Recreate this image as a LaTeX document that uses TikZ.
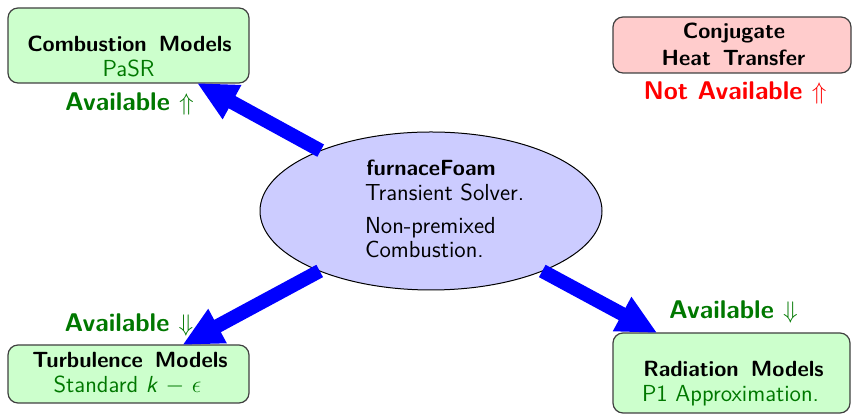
\documentclass[tikz,border=0pt]{standalone}
\usetikzlibrary{arrows.meta,shapes.geometric}

\definecolor{boxgreen}{RGB}{204,255,204}
\definecolor{boxred}{RGB}{255,204,204}
\definecolor{ellblue}{RGB}{204,204,255}
\definecolor{okgreen}{RGB}{0,120,0}
\definecolor{flowblue}{RGB}{0,0,255}

\newcommand{\wsp}{\hspace{0.55em}}

\begin{document}
\begin{tikzpicture}[x=0.5pt,y=-0.5pt,
  every node/.style={inner sep=0pt,outer sep=0pt,
    font=\fontsize{11.6}{13.6}\selectfont\sffamily},
  framebox/.style={draw=black!75,line width=0.6pt,rounded corners=5pt},
  modelbox/.style={framebox,fill=boxgreen},
  missingbox/.style={framebox,fill=boxred},
  solver/.style={ellipse,draw=black,line width=0.5pt,fill=ellblue},
  title/.style={anchor=base,font=\fontsize{11}{13}\selectfont\sffamily\bfseries},
  detail/.style={anchor=base,text=okgreen},
  status/.style={anchor=base,font=\fontsize{12.8}{15}\selectfont\sffamily\bfseries},
  flow/.style={line width=7pt,draw=flowblue,
    -{Triangle[length=20pt,width=18pt]}}
]
\useasboundingbox (0,0) rectangle (852,415);

% central solver
\node[solver,minimum width=171pt,minimum height=79pt] (solver) at (431,211) {};
\node[title] (solvername) at (431,176) {furnaceFoam};
\node[anchor=base west] (solvtype) at (365,201) {Transient Solver.};
\node[anchor=base west] (solvcomb1) at (365,234) {Non-premixed};
\node[anchor=base west] (solvcomb2) at (365,258) {Combustion.};

% model boxes
\node[modelbox,minimum width=120.5pt,minimum height=37.5pt] (comb) at (128.5,45.5) {};
\node[title] (combname) at (129.5,52) {Combustion\wsp Models};
\node[detail] (combmodel) at (128.5,76.5) {PaSR};
\node[status,text=okgreen] (combstat) at (129.5,110.5) {Available $\Uparrow$};

\node[missingbox,minimum width=119pt,minimum height=28pt] (conj) at (732,45) {};
\node[title] (conjname1) at (734,39) {Conjugate};
\node[title] (conjname2) at (733.5,66) {Heat\wsp Transfer};
\node[status,text=red] (conjstat) at (735,100) {Not Available $\Uparrow$};

\node[modelbox,minimum width=120.5pt,minimum height=29pt] (turb) at (128.5,374) {};
\node[title] (turbname) at (130,368) {Turbulence\wsp Models};
\node[detail] (turbmodel) at (127.5,393) {Standard \textit{k} $-$ $\epsilon$};
\node[status,text=okgreen] (turbstat) at (129,332) {Available $\Downarrow$};

\node[modelbox,minimum width=118.5pt,minimum height=40pt] (rad) at (731.5,373) {};
\node[title] (radname) at (733.5,377) {Radiation\wsp Models};
\node[detail] (radmodel) at (730.5,402) {P1 Approximation.};
\node[status,text=okgreen] (radstat) at (733.5,319) {Available $\Downarrow$};

% links from the solver
\draw[flow] (solver) -- (comb);
\draw[flow] (solver) -- (turb);
\draw[flow] (solver) -- (rad);
\end{tikzpicture}
\end{document}
